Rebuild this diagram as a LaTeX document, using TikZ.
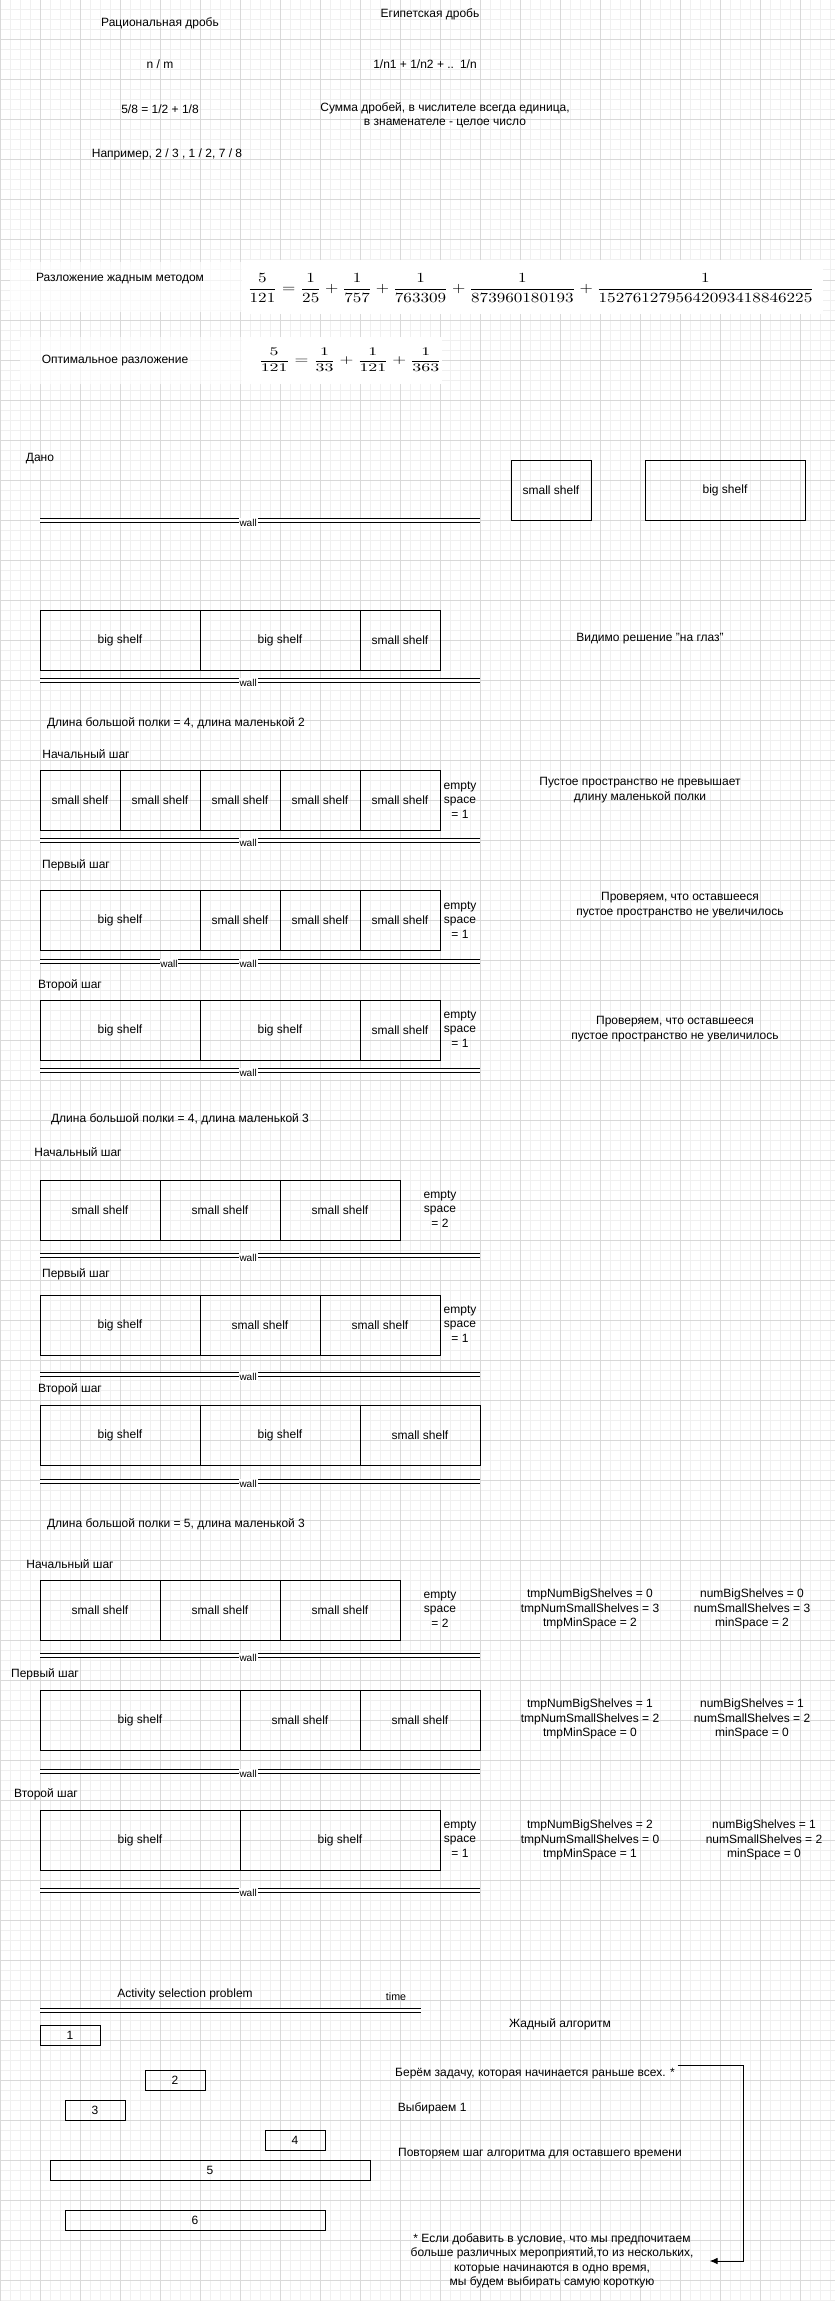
\documentclass[tikz,border=0pt]{standalone}
\usepackage[no-math]{fontspec}
\setmainfont{Liberation Sans}
\usepackage{graphicx}
\usetikzlibrary{arrows.meta,positioning}

\begin{document}
\begin{tikzpicture}[x=0.75pt,y=-0.75pt,
  txt/.style={font=\fontsize{9}{10.8}\selectfont,align=center,inner sep=2pt},
  shelf/.style={draw,line width=0.75pt,outer sep=0pt,inner sep=0pt,minimum height=45pt,font=\fontsize{9}{10.8}\selectfont},
  sm/.style={shelf,minimum width=60pt},
  smm/.style={shelf,minimum width=90pt},
  bg/.style={shelf,minimum width=120pt},
  bgg/.style={shelf,minimum width=150pt},
  wall/.style={line width=0.75pt,double,double distance=2.25pt},
  wlbl/.style={fill=white,inner sep=0.6pt,font=\fontsize{7.5}{9}\selectfont,yshift=-2pt},
  act/.style={draw,line width=0.75pt,outer sep=0pt,inner sep=0pt,minimum height=15pt,anchor=north west,font=\fontsize{9}{10.8}\selectfont},
  gridmin/.style={gray!12,line width=0.75pt},
  gridmaj/.style={gray!30,line width=0.75pt}]
\useasboundingbox (0,0) rectangle (835,2301);
\fill[white] (0,0) rectangle (835,2301);
\foreach \i in {0,10,...,830} \draw[gridmin] (\i,0) -- (\i,2301);
\foreach \j in {0,10,...,2300} \draw[gridmin] (0,\j) -- (835,\j);
\foreach \i in {0,40,...,830} \draw[gridmaj] (\i,0) -- (\i,2301);
\foreach \j in {0,40,...,2300} \draw[gridmaj] (0,\j) -- (835,\j);

\node[txt] (rat) at (160,23) {Рациональная дробь};
\node[txt] (egy) at (430,14) {Египетская дробь};
\node[txt] (nm) at (160,64) {n / m};
\node[txt] (sum) at (425,64) {1/n1 + 1/n2 + ..\enspace 1/n};
\node[txt] (ex) at (160,109) {5/8 = 1/2 + 1/8};
\node[txt] (def) at (445,115) {Сумма дробей, в числителе всегда единица,\\в знаменателе - целое число};
\node[txt] (eg) at (167,154) {Например, 2 / 3 , 1 / 2, 7 / 8};

\fill[white,opacity=.7] (10,262) rectangle (242,312);
\fill[white,opacity=.7] (20,337) rectangle (242,384);
\fill[white] (242,260) rectangle (823,314);
\fill[white] (242,337) rectangle (442,384);
\node[txt] (greedy) at (120,279) {Разложение жадным методом};
\node[inner sep=0pt] (f1) at (531,288) {\resizebox*{425pt}{21pt}{$\displaystyle \frac{5}{121}=\frac{1}{25}+\frac{1}{757}+\frac{1}{763309}+\frac{1}{873960180193}+\frac{1}{1527612795642093418846225}$}};
\node[txt] (optim) at (115,361) {Оптимальное разложение};
\node[inner sep=0pt] (f2) at (350,360) {\resizebox*{137pt}{17.5pt}{$\displaystyle \frac{5}{121}=\frac{1}{33}+\frac{1}{121}+\frac{1}{363}$}};

\node[txt] (given) at (40,459) {Дано};
\coordinate (wa) at (40,520); \coordinate (wb) at (480,520);
\draw[wall] (wa) -- node[wlbl,pos=.473] {wall} (wb);
\node[sm,anchor=north west] (gs) at (511,460) {small shelf};
\node[bg,anchor=north west] (gb) at (645,460) {big shelf};

\node[bg,anchor=north west] (e1) at (40,610) {big shelf};
\node[bg,right=0pt of e1] (e2) {big shelf};
\node[sm,right=0pt of e2] (e3) {small shelf};
\coordinate (wa) at (40,680); \coordinate (wb) at (480,680);
\draw[wall] (wa) -- node[wlbl,pos=.473] {wall} (wb);
\node[txt] (eye) at (650,639) {Видимо решение "на глаз"};

\node[txt] (len1) at (176,723) {Длина большой полки = 4, длина маленькой 2};
\node[txt] (st1) at (86,754) {Начальный шаг};
\node[sm,anchor=north west] (a1) at (40,770) {small shelf};
\node[sm,right=0pt of a1] (a2) {small shelf};
\node[sm,right=0pt of a2] (a3) {small shelf};
\node[sm,right=0pt of a3] (a4) {small shelf};
\node[sm,right=0pt of a4] (a5) {small shelf};
\node[txt] (ea) at (460,800) {empty\\space\\= 1};
\node[txt] (na) at (640,790) {Пустое пространство не превышает\\длину маленькой полки};
\coordinate (wa) at (40,840); \coordinate (wb) at (480,840);
\draw[wall] (wa) -- node[wlbl,pos=.473] {wall} (wb);

\node[txt] (st2) at (76,865) {Первый шаг};
\node[bg,anchor=north west] (b1) at (40,890) {big shelf};
\node[sm,right=0pt of b1] (b2) {small shelf};
\node[sm,right=0pt of b2] (b3) {small shelf};
\node[sm,right=0pt of b3] (b4) {small shelf};
\node[txt] (eb) at (460,920) {empty\\space\\= 1};
\node[txt] (nb) at (680,905) {Проверяем, что оставшееся\\пустое пространство не увеличилось};
\coordinate (wa) at (40,961); \coordinate (wb) at (480,961);
\draw[wall] (wa) -- node[wlbl,pos=.293] {wall} node[wlbl,pos=.473] {wall} (wb);

\node[txt] (st3) at (70,985) {Второй шаг};
\node[bg,anchor=north west] (c1) at (40,1000) {big shelf};
\node[bg,right=0pt of c1] (c2) {big shelf};
\node[sm,right=0pt of c2] (c3) {small shelf};
\node[txt] (ec) at (460,1029) {empty\\space\\= 1};
\node[txt] (nc) at (675,1029) {Проверяем, что оставшееся\\пустое пространство не увеличилось};
\coordinate (wa) at (40,1070); \coordinate (wb) at (480,1070);
\draw[wall] (wa) -- node[wlbl,pos=.473] {wall} (wb);

\node[txt] (len2) at (180,1119) {Длина большой полки = 4, длина маленькой 3};
\node[txt] (st4) at (78,1152) {Начальный шаг};
\node[smm,anchor=north west] (d1) at (40,1180) {small shelf};
\node[smm,right=0pt of d1] (d2) {small shelf};
\node[smm,right=0pt of d2] (d3) {small shelf};
\node[txt] (ed) at (440,1209) {empty\\space\\= 2};
\coordinate (wa) at (40,1255); \coordinate (wb) at (480,1255);
\draw[wall] (wa) -- node[wlbl,pos=.473] {wall} (wb);

\node[txt] (st5) at (76,1274) {Первый шаг};
\node[bg,anchor=north west] (g1) at (40,1295) {big shelf};
\node[smm,right=0pt of g1] (g2) {small shelf};
\node[smm,right=0pt of g2] (g3) {small shelf};
\node[txt] (eg1) at (460,1324) {empty\\space\\= 1};
\coordinate (wa) at (40,1374); \coordinate (wb) at (480,1374);
\draw[wall] (wa) -- node[wlbl,pos=.473] {wall} (wb);

\node[txt] (st6) at (70,1389) {Второй шаг};
\node[bg,anchor=north west] (h1) at (40,1405) {big shelf};
\node[bg,right=0pt of h1] (h2) {big shelf};
\node[smm,right=0pt of h2] (h3) {small shelf};
\coordinate (wa) at (40,1481); \coordinate (wb) at (480,1481);
\draw[wall] (wa) -- node[wlbl,pos=.473] {wall} (wb);

\node[txt] (len3) at (176,1524) {Длина большой полки = 5, длина маленькой 3};
\node[txt] (st7) at (70,1564) {Начальный шаг};
\node[smm,anchor=north west] (k1) at (40,1580) {small shelf};
\node[smm,right=0pt of k1] (k2) {small shelf};
\node[smm,right=0pt of k2] (k3) {small shelf};
\node[txt] (ek) at (440,1609) {empty\\space\\= 2};
\node[txt] (tk) at (590,1609) {tmpNumBigShelves = 0\\tmpNumSmallShelves = 3\\tmpMinSpace = 2};
\node[txt] (vk) at (752,1609) {numBigShelves = 0\\numSmallShelves = 3\\minSpace = 2};
\coordinate (wa) at (40,1655); \coordinate (wb) at (480,1655);
\draw[wall] (wa) -- node[wlbl,pos=.473] {wall} (wb);

\node[txt] (st8) at (45,1674) {Первый шаг};
\node[bgg,anchor=north west] (m1) at (40,1690) {big shelf};
\node[smm,right=0pt of m1] (m2) {small shelf};
\node[smm,right=0pt of m2] (m3) {small shelf};
\node[txt] (tm1) at (590,1719) {tmpNumBigShelves = 1\\tmpNumSmallShelves = 2\\tmpMinSpace = 0};
\node[txt] (vm) at (752,1719) {numBigShelves = 1\\numSmallShelves = 2\\minSpace = 0};
\coordinate (wa) at (40,1771); \coordinate (wb) at (480,1771);
\draw[wall] (wa) -- node[wlbl,pos=.473] {wall} (wb);

\node[txt] (st9) at (46,1794) {Второй шаг};
\node[bgg,anchor=north west] (q1) at (40,1810) {big shelf};
\node[bgg,right=0pt of q1] (q2) {big shelf};
\node[txt] (eq) at (460,1839) {empty\\space\\= 1};
\node[txt] (tq) at (590,1840) {tmpNumBigShelves = 2\\tmpNumSmallShelves = 0\\tmpMinSpace = 1};
\node[txt] (vq) at (764,1840) {numBigShelves = 1\\numSmallShelves = 2\\minSpace = 0};
\coordinate (wa) at (40,1890); \coordinate (wb) at (480,1890);
\draw[wall] (wa) -- node[wlbl,pos=.473] {wall} (wb);

\node[txt] (asp) at (185,1994) {Activity selection problem};
\coordinate (ta) at (40,2010); \coordinate (tb) at (421,2010);
\draw[wall] (ta) -- (tb);
\node[txt,font=\fontsize{8}{9.6}\selectfont] (time) at (396,1997) {time};
\node[act,minimum width=45pt] (p1) at (40,2025) {1};
\node[act,minimum width=45pt] (p2) at (145,2070) {2};
\node[act,minimum width=45pt] (p3) at (65,2100) {3};
\node[act,minimum width=45pt] (p4) at (265,2130) {4};
\node[act,minimum width=240pt] (p5) at (50,2160) {5};
\node[act,minimum width=195pt] (p6) at (65,2210) {6};

\node[txt] (alg) at (560,2024) {Жадный алгоритм};
\node[txt] (take) at (535,2074) {Берём задачу, которая начинается раньше всех. *};
\node[txt,anchor=west] (pick) at (395,2108) {Выбираем 1};
\node[txt] (rep) at (540,2154) {Повторяем шаг алгоритма для оставшего времени};
\node[txt,inner xsep=12pt] (note) at (552,2261) {* Если добавить в условие, что мы предпочитаем\\больше различных мероприятий,то из нескольких,\\которые начинаются в одно время,\\мы будем выбирать самую короткую};
\draw[line width=0.75pt,-{Latex[length=6pt,width=5pt]}] (take.north east) -- ++(66,0) |- (note.east);
\end{tikzpicture}
\end{document}
